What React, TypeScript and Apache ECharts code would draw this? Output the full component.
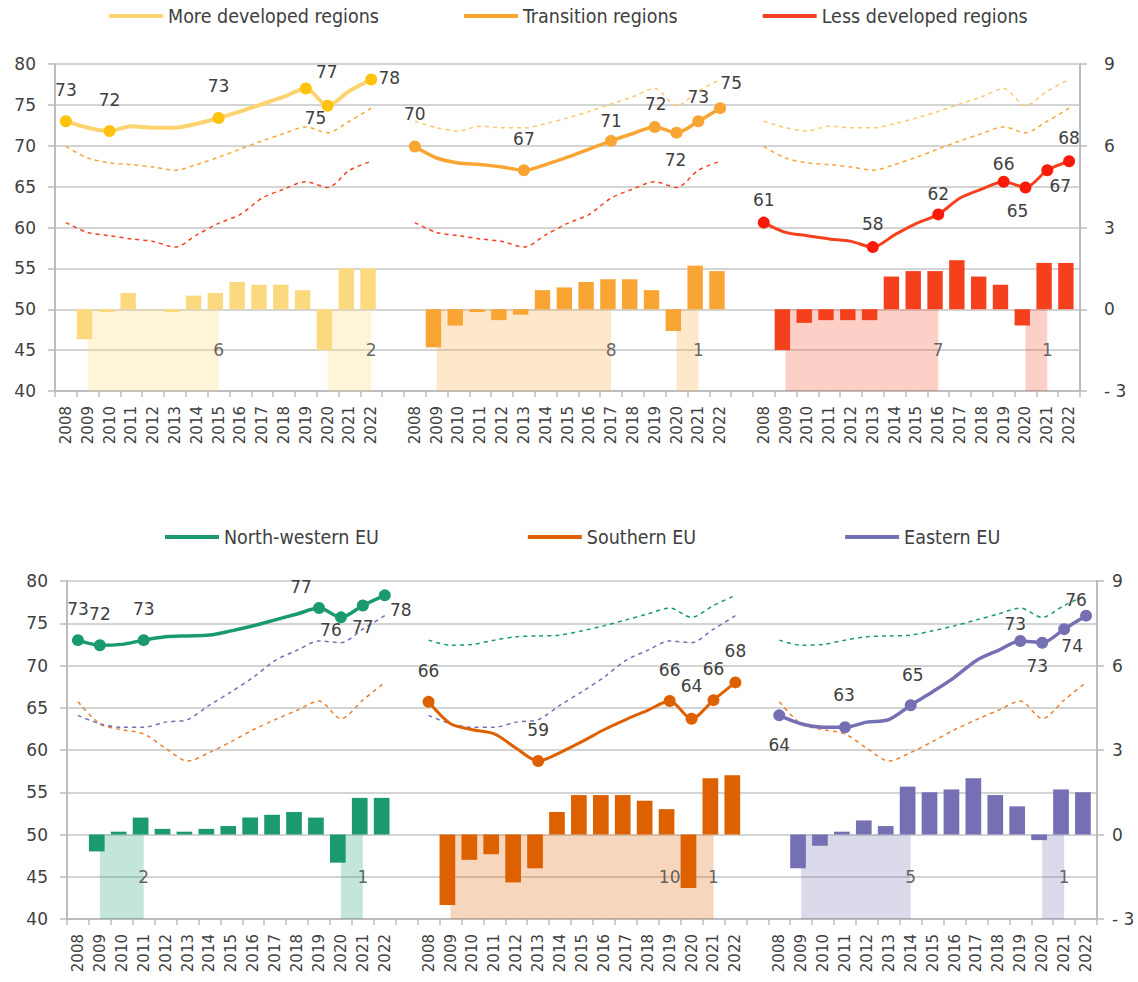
import React, { useEffect, useRef } from 'react';
import * as echarts from 'echarts';

// ---------- data ----------
const years = [2008, 2009, 2010, 2011, 2012, 2013, 2014, 2015, 2016, 2017, 2018, 2019, 2020, 2021, 2022];

const topNames = ['More developed regions', 'Transition regions', 'Less developed regions'];
const moreDeveloped = [73.0, 72.2, 71.8, 72.4, 72.2, 72.2, 72.7, 73.4, 74.2, 75.1, 76.0, 77.0, 74.9, 76.7, 78.1];
const transition = [69.9, 68.5, 67.9, 67.7, 67.4, 67.0, 67.7, 68.6, 69.6, 70.6, 71.5, 72.3, 71.6, 73.0, 74.6];
const lessDeveloped = [60.6, 59.4, 59.0, 58.6, 58.3, 57.6, 59.1, 60.5, 61.6, 63.6, 64.7, 65.6, 64.9, 67.0, 68.1];
const moreDevelopedChange = [null, -1.1, -0.1, 0.6, 0, -0.1, 0.5, 0.6, 1.0, 0.9, 0.9, 0.7, -1.5, 1.5, 1.5];
const transitionChange = [null, -1.4, -0.6, -0.1, -0.4, -0.2, 0.7, 0.8, 1.0, 1.1, 1.1, 0.7, -0.8, 1.6, 1.4];
const lessDevelopedChange = [null, -1.5, -0.5, -0.4, -0.4, -0.4, 1.2, 1.4, 1.4, 1.8, 1.2, 0.9, -0.6, 1.7, 1.7];
const moreDevelopedMarks = [2008, 2010, 2015, 2019, 2020, 2022];
const transitionMarks = [2008, 2013, 2017, 2019, 2020, 2021, 2022];
const lessDevelopedMarks = [2008, 2013, 2016, 2019, 2020, 2021, 2022];
// recovery spans [from, to] and their labels [year, text]
const moreDevelopedSpans = [[2009, 2015], [2020, 2022]];
const moreDevelopedSpanLabels = [[2015, '6'], [2022, '2']];
const transitionSpans = [[2009, 2017], [2020, 2021]];
const transitionSpanLabels = [[2017, '8'], [2021, '1']];
const lessDevelopedSpans = [[2009, 2016], [2020, 2021]];
const lessDevelopedSpanLabels = [[2016, '7'], [2021, '1']];

const bottomNames = ['North-western EU', 'Southern EU', 'Eastern EU'];
const northWestern = [73.0, 72.4, 72.5, 73.0, 73.4, 73.5, 73.6, 74.1, 74.7, 75.4, 76.1, 76.8, 75.7, 77.1, 78.3];
const southern = [65.7, 63.1, 62.4, 61.9, 60.2, 58.7, 59.7, 61.0, 62.4, 63.6, 64.7, 65.8, 63.7, 65.9, 68.0];
const eastern = [64.1, 63.1, 62.7, 62.7, 63.3, 63.6, 65.3, 66.9, 68.6, 70.6, 71.8, 72.9, 72.7, 74.3, 75.9];
const northWesternChange = [null, -0.6, 0.1, 0.6, 0.2, 0.1, 0.2, 0.3, 0.6, 0.7, 0.8, 0.6, -1.0, 1.3, 1.3];
const southernChange = [null, -2.5, -0.9, -0.7, -1.7, -1.2, 0.8, 1.4, 1.4, 1.4, 1.2, 0.9, -1.9, 2.0, 2.1];
const easternChange = [null, -1.2, -0.4, 0.1, 0.5, 0.3, 1.7, 1.5, 1.6, 2.0, 1.4, 1.0, -0.2, 1.6, 1.5];
const northWesternMarks = [2008, 2009, 2011, 2019, 2020, 2021, 2022];
const southernMarks = [2008, 2013, 2019, 2020, 2021, 2022];
const easternMarks = [2008, 2011, 2014, 2019, 2020, 2021, 2022];
const northWesternSpans = [[2009, 2011], [2020, 2021]];
const northWesternSpanLabels = [[2011, '2'], [2021, '1']];
const southernSpans = [[2009, 2021]];
const southernSpanLabels = [[2019, '10'], [2021, '1']];
const easternSpans = [[2009, 2014], [2020, 2021]];
const easternSpanLabels = [[2014, '5'], [2021, '1']];

const leftTicks = { min: 40, max: 80, interval: 5 };
const rightTicks = { min: -3, max: 9, interval: 3 };

// ---------- layout / styling ----------
const topOffsets = [
  [[0, -31], [0, -31], [0, -32], [21, -17], [-12, 12], [18, -2]],
  [[0, -33], [0, -31], [0, -20], [1, -23], [-1, 27], [0, -24], [11, -25]],
  [[0, -23], [0, -23], [0, -20], [0, -18], [-8, 24], [13, 16], [0, -23]],
];
const bottomOffsets = [
  [[0, -31], [0, -31], [0, -31], [-18, -21], [-10, 13], [0, 21], [16, 15]],
  [[0, -31], [0, -31], [0, -31], [0, -33], [0, -31], [0, -31]],
  [[0, 30], [-1, -32], [2, -30], [-5, -17], [-5, 23], [8, 17], [-10, -16]],
];

const topStyle = [
  { line: '#fdd36f', marker: '#ffc20e', bar: '#fcd97f', dash: '#fbc86b', area: 'rgba(252,217,126,0.3)', width: 4 },
  { line: '#f9a533', marker: '#f9a533', bar: '#f9a533', dash: '#f9a533', area: 'rgba(249,165,51,0.25)', width: 3.5 },
  { line: '#f4421e', marker: '#fa1a0a', bar: '#f5401e', dash: '#f5401e', area: 'rgba(245,64,30,0.25)', width: 3 },
];
const bottomStyle = [
  { line: '#1b9a72', marker: '#1b9a72', bar: '#1b9a72', dash: '#1b9a72', area: 'rgba(26,154,112,0.26)', width: 3.5 },
  { line: '#dd6100', marker: '#dd6100', bar: '#dd6100', dash: '#ec8030', area: 'rgba(221,97,0,0.26)', width: 3 },
  { line: '#7570b3', marker: '#7570b3', bar: '#7570b3', dash: '#7570b3', area: 'rgba(117,112,179,0.26)', width: 3.5 },
];

const FONT = "'DejaVu Sans', sans-serif";
const LEGEND_FONT = "'Liberation Sans Narrow', 'DejaVu Sans Condensed', 'Liberation Sans', sans-serif";
const TEXT = '#404040';
const GRID_GRAY = '#c6c6c6';
const AXIS_GRAY = '#bdbdbd';

// categories: 3 panels of 15 years, separated by one empty slot
const cats: string[] = [];
for (let p = 0; p < 3; p++) {
  years.forEach((y) => cats.push(`${p}-${y}`));
  if (p < 2) cats.push(`gap-${p}`);
}
const idxOf = (p: number, year: number) => p * 16 + (year - years[0]);

function buildSeries(
  gi: number,
  names: string[],
  values: number[][],
  changes: (number | null)[][],
  marks: number[][],
  offsets: number[][][],
  styles: any[],
  spans: number[][][],
  spanLabels: any[][][],
  barWidth: number,
  bandWidth: number
) {
  const series: any[] = [];
  const xAxisIndex = gi;
  const valueXAxis = gi + 2;
  const leftY = gi * 2;
  const rightY = gi * 2 + 1;

  // bars (right axis)
  const barData: any[] = cats.map(() => '-');
  changes.forEach((arr, p) => {
    arr.forEach((v, i) => {
      if (v !== null) barData[idxOf(p, years[i])] = { value: v, itemStyle: { color: styles[p].bar } };
    });
  });
  const gap = (bandWidth - 2 * barWidth) / barWidth;
  series.push({
    type: 'bar',
    name: `bars-${gi}`,
    xAxisIndex,
    yAxisIndex: rightY,
    data: barData,
    barWidth,
    barGap: `${(gap * 100).toFixed(1)}%`,
    z: 2,
    silent: true,
  });
  // spacer bar (shifts visible bars to the left of each band)
  series.push({
    type: 'bar',
    name: `spacer-${gi}`,
    xAxisIndex,
    yAxisIndex: rightY,
    data: cats.map(() => 0),
    barWidth,
    barGap: `${(gap * 100).toFixed(1)}%`,
    itemStyle: { color: 'rgba(0,0,0,0)' },
    silent: true,
  });

  // dashed reference lines
  values.forEach((vals, q) => {
    const d: any[] = cats.map(() => '-');
    for (let p = 0; p < 3; p++) {
      if (p === q) continue;
      vals.forEach((v, i) => (d[idxOf(p, years[i])] = v));
    }
    series.push({
      type: 'line',
      name: `${names[q]} ref`,
      xAxisIndex,
      yAxisIndex: leftY,
      data: d,
      smooth: 0.3,
      symbol: 'none',
      lineStyle: { color: styles[q].dash, width: 1.5, type: [4, 4] },
      z: 3,
      silent: true,
    });
  });

  // main solid lines
  values.forEach((vals, p) => {
    const d: any[] = cats.map(() => '-');
    vals.forEach((v, i) => {
      const y = years[i];
      const k = marks[p].indexOf(y);
      if (k >= 0) {
        d[idxOf(p, y)] = {
          value: v,
          label: {
            show: true,
            position: 'inside',
            offset: offsets[p][k],
            formatter: (pp: any) => String(Math.round(pp.value)),
            color: TEXT,
            fontSize: 17,
            fontFamily: FONT,
          },
        };
      } else {
        d[idxOf(p, y)] = { value: v, symbol: 'none' };
      }
    });
    series.push({
      type: 'line',
      name: names[p],
      xAxisIndex,
      yAxisIndex: leftY,
      data: d,
      smooth: 0.3,
      symbol: 'circle',
      symbolSize: 12,
      showSymbol: true,
      showAllSymbol: true,
      itemStyle: { color: styles[p].marker },
      lineStyle: { color: styles[p].line, width: styles[p].width },
      label: { show: false },
      z: 4,
      silent: true,
    });
  });

  // shaded recovery areas (centre of first year to centre of last year) + their labels
  const areaData: any[] = [];
  spans.forEach((arr, p) => {
    arr.forEach(([a, b]) => {
      areaData.push([
        { coord: [idxOf(p, a), -3], itemStyle: { color: styles[p].area } },
        { coord: [idxOf(p, b), 0] },
      ]);
    });
  });
  const lab: any[] = [];
  spanLabels.forEach((arr, p) => {
    arr.forEach(([yr, txt]) => lab.push([idxOf(p, yr), -1.5, txt]));
  });
  series.push({
    type: 'scatter',
    name: `rec-${gi}`,
    xAxisIndex: valueXAxis,
    yAxisIndex: rightY,
    data: lab,
    symbolSize: 1,
    itemStyle: { color: 'rgba(0,0,0,0)' },
    label: {
      show: true,
      position: 'inside',
      formatter: (pp: any) => pp.value[2],
      color: TEXT,
      fontSize: 17,
      fontFamily: FONT,
    },
    markArea: { silent: true, data: areaData, label: { show: false }, z: 1 },
    z: 5,
    silent: true,
  });
  return series;
}

function xAxisFor(gi: number) {
  return {
    type: 'category',
    gridIndex: gi,
    data: cats,
    boundaryGap: true,
    axisLine: { onZero: false, lineStyle: { color: AXIS_GRAY, width: 2 } },
    axisTick: { show: true, interval: 0, length: 6, lineStyle: { color: AXIS_GRAY, width: 1.5 } },
    axisLabel: {
      interval: 0,
      rotate: 90,
      margin: 15,
      color: TEXT,
      fontSize: 15,
      fontFamily: FONT,
      formatter: (v: string) => (v.startsWith('gap') ? '' : v.split('-')[1]),
    },
    splitLine: { show: false },
  };
}

function valueXAxisFor(gi: number) {
  return {
    type: 'value',
    gridIndex: gi,
    show: false,
    min: -0.5,
    max: cats.length - 0.5,
    axisLine: { onZero: false },
    splitLine: { show: false },
  };
}

function yAxesFor(gi: number, rightMargin: number) {
  return [
    {
      type: 'value',
      gridIndex: gi,
      position: 'left',
      ...leftTicks,
      axisLine: { show: true, onZero: false, lineStyle: { color: AXIS_GRAY, width: 2 } },
      axisTick: { show: true, length: 7, lineStyle: { color: AXIS_GRAY, width: 1.5 } },
      axisLabel: { margin: 19, color: TEXT, fontSize: 17, fontFamily: FONT },
      splitLine: { show: true, lineStyle: { color: GRID_GRAY, width: 1.5 } },
    },
    {
      type: 'value',
      gridIndex: gi,
      position: 'right',
      ...rightTicks,
      axisLine: { show: true, onZero: false, lineStyle: { color: AXIS_GRAY, width: 2 } },
      axisTick: { show: true, length: 7, lineStyle: { color: AXIS_GRAY, width: 1.5 } },
      axisLabel: {
        margin: rightMargin,
        color: TEXT,
        fontSize: 17,
        fontFamily: FONT,
        formatter: (v: number) => (v < 0 ? `- ${Math.abs(v)}` : String(v)),
      },
      splitLine: { show: false },
    },
  ];
}

function legendFor(names: string[], styles: any[], top: number, left: number, gap: number) {
  return {
    top,
    left,
    orient: 'horizontal',
    icon: 'rect',
    itemWidth: 54,
    itemHeight: 4,
    itemGap: gap,
    selectedMode: false,
    data: names.map((n, i) => ({ name: n, itemStyle: { color: styles[i].line } })),
    textStyle: { color: TEXT, fontSize: 19.5, fontFamily: LEGEND_FONT },
  };
}

export default function App() {
  const ref = useRef<HTMLDivElement>(null);
  useEffect(() => {
    if (!ref.current) return;
    const chart = echarts.init(ref.current, undefined, { renderer: 'svg' });
    const topSeries = buildSeries(
      0,
      topNames,
      [moreDeveloped, transition, lessDeveloped],
      [moreDevelopedChange, transitionChange, lessDevelopedChange],
      [moreDevelopedMarks, transitionMarks, lessDevelopedMarks],
      topOffsets,
      topStyle,
      [moreDevelopedSpans, transitionSpans, lessDevelopedSpans],
      [moreDevelopedSpanLabels, transitionSpanLabels, lessDevelopedSpanLabels],
      15.4,
      1025 / 47
    );
    const bottomSeries = buildSeries(
      1,
      bottomNames,
      [northWestern, southern, eastern],
      [northWesternChange, southernChange, easternChange],
      [northWesternMarks, southernMarks, easternMarks],
      bottomOffsets,
      bottomStyle,
      [northWesternSpans, southernSpans, easternSpans],
      [northWesternSpanLabels, southernSpanLabels, easternSpanLabels],
      15.7,
      1030 / 47
    );
    chart.setOption({
      animation: false,
      backgroundColor: '#ffffff',
      grid: [
        { left: 55, top: 64, width: 1025, height: 327, outerBoundsMode: 'none', containLabel: false },
        { left: 67, top: 581, width: 1030, height: 338, outerBoundsMode: 'none', containLabel: false },
      ],
      legend: [
        legendFor(topNames, topStyle, 1, 104, 85),
        legendFor(bottomNames, bottomStyle, 522, 160, 149),
      ],
      xAxis: [xAxisFor(0), xAxisFor(1), valueXAxisFor(0), valueXAxisFor(1)],
      yAxis: [...yAxesFor(0, 24), ...yAxesFor(1, 15)],
      series: [...topSeries, ...bottomSeries],
    });
    return () => chart.dispose();
  }, []);
  return (
    <div
      ref={ref}
      style={{ position: 'absolute', left: 0, top: 0, width: 1138, height: 982, background: '#fff' }}
    />
  );
}
